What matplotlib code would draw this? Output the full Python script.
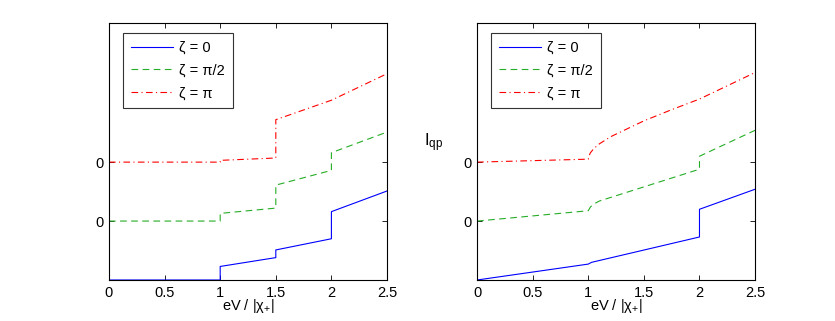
import numpy as np
import matplotlib
matplotlib.use("Agg")
import matplotlib.pyplot as plt

plt.rcParams['font.family'] = ['Liberation Sans', 'DejaVu Sans']
plt.rcParams['mathtext.fontset'] = 'custom'
plt.rcParams['mathtext.rm'] = 'Liberation Sans'
plt.rcParams['mathtext.it'] = 'Liberation Sans'

# left panel (curves offset by 1 unit each, tick "0" marks each offset)
left_x_blue = [0, 1, 1, 1.5, 1.5, 2, 2, 2.5]
left_y_blue = [0, 0, 0.23, 0.38, 0.51, 0.70, 1.16, 1.51]
left_x_green = [0, 1, 1, 1.5, 1.5, 2, 2, 2.5]
left_y_green = [1.0, 1.0, 1.13, 1.22, 1.61, 1.86, 2.16, 2.51]
left_x_red = [0, 1, 1, 1.5, 1.5, 2, 2.5]
left_y_red = [2.0, 2.0, 2.03, 2.07, 2.72, 3.05, 3.50]

# right panel
right_x_blue = [0, 1, 1.03, 2, 2, 2.5]
right_y_blue = [0, 0.27, 0.30, 0.73, 1.20, 1.54]
right_x_green = [0, 1, 1.02, 1.05, 1.1, 2, 2, 2.5]
right_y_green = [1.0, 1.175, 1.24, 1.29, 1.34, 1.88, 2.10, 2.54]
right_x_red = [0, 1, 1.005, 1.02, 1.05, 1.1, 1.2, 1.3, 1.5, 1.75, 2.0, 2.5]
right_y_red = [2.0, 2.05, 2.10, 2.16, 2.23, 2.31, 2.43, 2.52, 2.70, 2.89, 3.07, 3.52]

labels = ["ζ = 0", "ζ = π/2", "ζ = π"]
xticks = [0, 0.5, 1, 1.5, 2, 2.5]
xticklabels = ["0", "0.5", "1", "1.5", "2", "2.5"]

fs = 10.5

fig = plt.figure(figsize=(8.35, 3.21), dpi=100)
ax1 = fig.add_axes([0.1305, 0.1277, 0.333, 0.8006])
ax2 = fig.add_axes([0.5713, 0.1277, 0.333, 0.8006])

blue = (0.0, 0.0, 1.0)
green = (0.15, 0.68, 0.15)
red = (1.0, 0.0, 0.0)

panels = [
    (ax1, left_x_blue, left_y_blue, left_x_green, left_y_green, left_x_red, left_y_red),
    (ax2, right_x_blue, right_y_blue, right_x_green, right_y_green, right_x_red, right_y_red),
]

for ax, xb, yb, xg, yg, xr, yr in panels:
    ax.plot(xb, yb, color=blue, lw=0.8, label=labels[0])
    ax.plot(xg, yg, color=green, lw=0.8, dashes=(6, 4), label=labels[1])
    ax.plot(xr, yr, color=red, lw=0.8, dashes=(6, 3, 1, 3), label=labels[2])
    ax.set_xlim(0, 2.5)
    ax.set_ylim(0, 4.36)
    ax.set_xticks(xticks)
    ax.set_xticklabels(xticklabels)
    ax.set_yticks([1, 2])
    ax.set_yticklabels(["0", "0"])
    ax.tick_params(direction='in', top=True, right=True, length=3.5,
                   width=0.6, labelsize=fs, pad=4)
    for s in ax.spines.values():
        s.set_linewidth(0.8)
    ax.set_xlabel(r"eV / |$\mathrm{χ}_{+}$|", fontsize=fs, labelpad=-2)
    leg = ax.legend(loc='upper left', bbox_to_anchor=(0.05, 0.962),
                    borderaxespad=0, fancybox=False, framealpha=1,
                    edgecolor='#333333', fontsize=fs, handlelength=2.9,
                    labelspacing=0.6, borderpad=0.55, handletextpad=0.4)
    leg.get_frame().set_linewidth(0.8)

ax2.set_ylabel(r"$\mathrm{I}_{\mathrm{qp}}$", fontsize=12, rotation=0)
ax2.yaxis.set_label_coords(-0.155, 0.49)

fig.savefig("out.png", dpi=100)
